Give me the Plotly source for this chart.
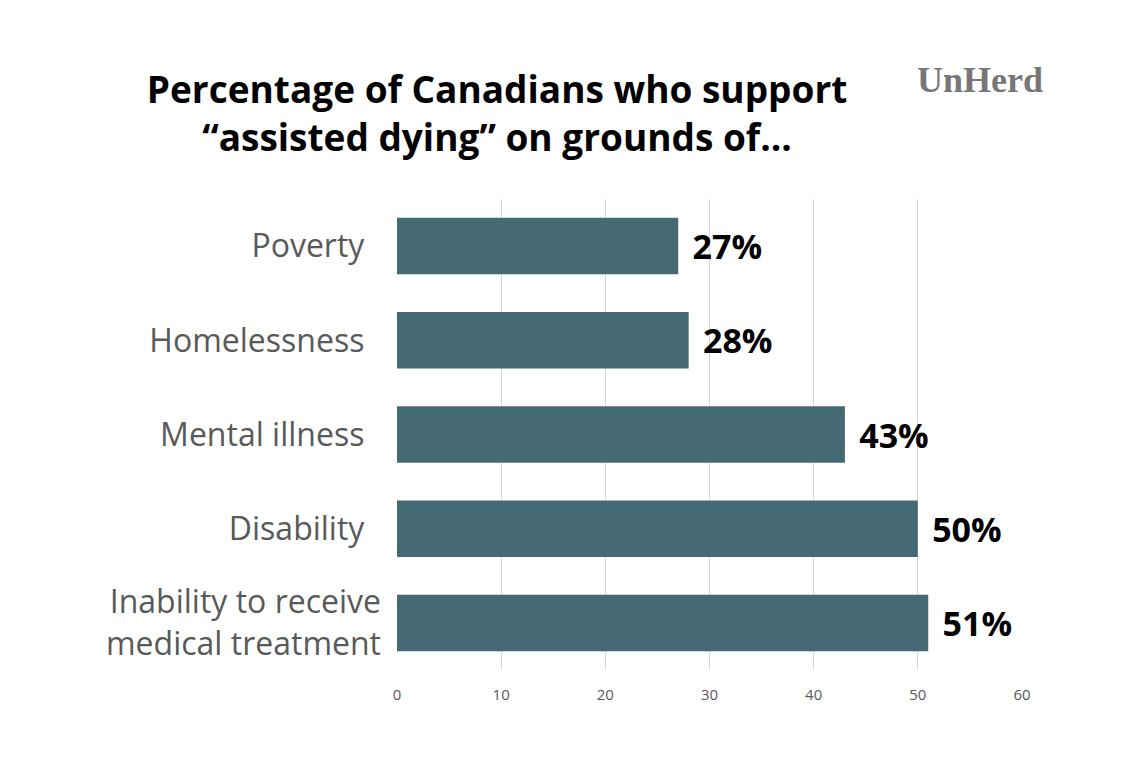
import plotly.graph_objects as go

categories = ["Poverty", "Homelessness", "Mental illness", "Disability",
              "Inability to receive<br>medical treatment"]
values = [27, 28, 43, 50, 51]
x_ticks = [0, 10, 20, 30, 40, 50, 60]

tick_text = [c if "<br>" in c else c + "\u00a0\u00a0" for c in categories]

fig = go.Figure(go.Bar(
    y=categories, x=values, orientation="h",
    marker=dict(color="#466a74", line=dict(width=0)),
    width=0.6,
    text=[f"\u2004{v}%" for v in values],
    textposition="outside",
    cliponaxis=False,
    textfont=dict(family="Open Sans", size=34, color="#000000", weight="bold"),
))

fig.update_layout(
    width=1132, height=752,
    paper_bgcolor="white", plot_bgcolor="white",
    margin=dict(l=389, r=118, t=191, b=90),
    showlegend=False,
    title=dict(
        text="Percentage of Canadians who support<br>\u201cassisted dying\u201d on grounds of...",
        x=0.432, xanchor="center", y=0.874, yanchor="middle",
        font=dict(family="Open Sans", size=37, color="#000000", weight="bold"),
    ),
    xaxis=dict(range=[0, 60], tickvals=x_ticks, showgrid=True, gridcolor="#d9d9d9",
               gridwidth=1, zeroline=False, showline=False,
               tickfont=dict(family="Open Sans", size=15, color="#595959"),
               ticks="", ticklabelstandoff=14),
    yaxis=dict(categoryorder="array", categoryarray=categories, autorange="reversed",
               tickvals=categories, ticktext=tick_text, ticks="",
               tickfont=dict(family="Open Sans", size=32, color="#595959"),
               showgrid=False, showline=False, ticklabelstandoff=15),
)

fig.add_annotation(
    text="<b>UnHerd</b>", xref="paper", yref="paper", x=1.037, y=1.0,
    yshift=119, xanchor="right", yanchor="middle", showarrow=False,
    font=dict(family="Liberation Serif", size=36, color="#777777"),
)

fig.write_html("out.html")
